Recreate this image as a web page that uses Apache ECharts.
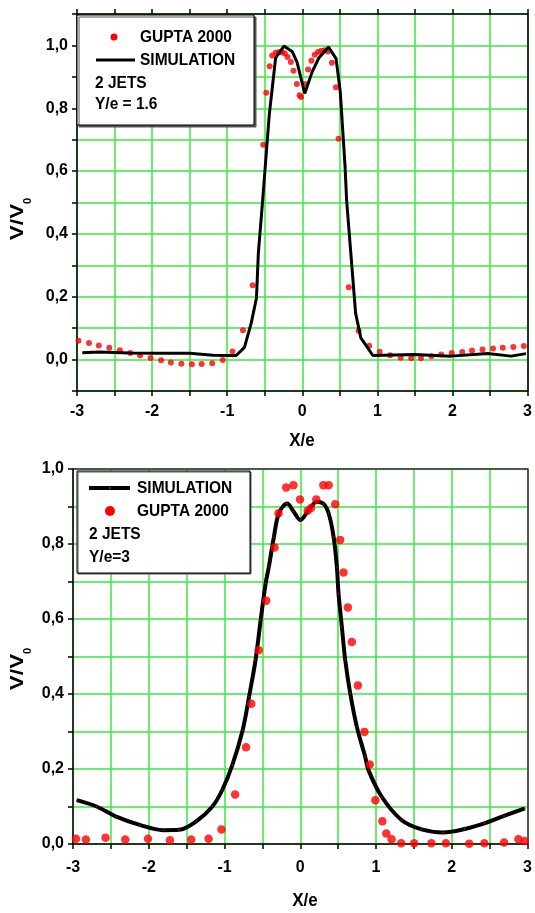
<!DOCTYPE html>
<html><head><meta charset="utf-8">
<script src="https://cdn.jsdelivr.net/npm/echarts@6/dist/echarts.min.js"></script>
<style>html,body{margin:0;padding:0;background:#fff}#c{width:535px;height:913px}</style>
</head><body><div id="c"></div>
<script>
// ---- Top panel (Y/e = 1.6) ----
const topGuptaX = [-2.98,-2.84,-2.71,-2.57,-2.43,-2.29,-2.16,-2.02,-1.88,-1.75,-1.61,-1.47,-1.34,-1.20,-1.06,-0.93,-0.79,-0.66,-0.52,-0.48,-0.435,-0.40,-0.355,-0.31,-0.27,-0.232,-0.196,-0.152,-0.117,-0.073,-0.037,-0.016,0.033,0.077,0.122,0.166,0.21,0.254,0.298,0.342,0.395,0.448,0.483,0.62,0.75,0.89,1.03,1.17,1.31,1.45,1.58,1.72,1.85,1.99,2.13,2.26,2.40,2.54,2.67,2.81,2.95];
const topGuptaY = [0.060,0.053,0.045,0.038,0.030,0.021,0.013,0.005,-0.002,-0.009,-0.013,-0.015,-0.014,-0.012,-0.001,0.026,0.093,0.237,0.684,0.849,0.934,0.968,0.977,0.979,0.978,0.974,0.963,0.947,0.919,0.877,0.841,0.836,0.877,0.923,0.951,0.970,0.979,0.983,0.985,0.981,0.945,0.867,0.703,0.230,0.092,0.044,0.025,0.014,0.006,0.004,0.004,0.011,0.016,0.021,0.024,0.029,0.032,0.035,0.038,0.040,0.043];
const topSimX = [-2.93,-2.71,-2.3,-1.9,-1.5,-1.19,-0.88,-0.77,-0.68,-0.61,-0.585,-0.53,-0.44,-0.355,-0.245,-0.135,-0.07,0.033,0.13,0.22,0.35,0.45,0.506,0.57,0.59,0.71,0.78,0.94,1.50,1.98,2.47,2.78,2.98];
const topSimY = [0.022,0.024,0.021,0.020,0.020,0.014,0.013,0.039,0.116,0.196,0.339,0.500,0.778,0.960,0.998,0.981,0.947,0.847,0.915,0.960,0.995,0.958,0.852,0.614,0.508,0.148,0.069,0.013,0.016,0.011,0.019,0.011,0.019];

// ---- Bottom panel (Y/e = 3) ----
const botGuptaX = [-2.96,-2.83,-2.57,-2.31,-2.01,-1.72,-1.44,-1.21,-1.04,-0.86,-0.716,-0.646,-0.549,-0.449,-0.34,-0.287,-0.186,-0.09,-0.003,0.098,0.142,0.212,0.304,0.374,0.462,0.527,0.571,0.628,0.68,0.76,0.847,0.917,0.991,1.083,1.136,1.205,1.332,1.503,1.73,1.923,2.23,2.43,2.69,2.88,2.96];
const botGuptaY = [0.014,0.012,0.017,0.012,0.014,0.010,0.012,0.014,0.039,0.132,0.258,0.374,0.517,0.649,0.791,0.882,0.951,0.957,0.919,0.889,0.896,0.919,0.957,0.957,0.906,0.811,0.724,0.631,0.539,0.423,0.299,0.212,0.117,0.061,0.028,0.013,0.002,0.002,0.002,0.002,0.001,0.002,0.004,0.013,0.008];
const botSimX = [-2.95,-2.69,-2.43,-2.12,-1.81,-1.6,-1.376,-1.16,-1.03,-0.896,-0.76,-0.676,-0.59,-0.523,-0.457,-0.414,-0.348,-0.282,-0.173,-0.086,0.003,0.111,0.221,0.308,0.374,0.44,0.483,0.505,0.549,0.593,0.659,0.746,0.856,0.90,1.075,1.336,1.60,1.884,2.17,2.43,2.69,2.965];
const botSimY = [0.117,0.100,0.073,0.051,0.037,0.038,0.060,0.100,0.144,0.211,0.304,0.393,0.491,0.597,0.695,0.740,0.819,0.882,0.908,0.886,0.864,0.891,0.913,0.907,0.882,0.819,0.739,0.668,0.579,0.491,0.402,0.313,0.233,0.197,0.126,0.064,0.039,0.031,0.040,0.055,0.075,0.095];

const xTicks = [-3,-2,-1,0,1,2,3];
const yTicks = [0,0.2,0.4,0.6,0.8,1.0];

const zip = (a,b) => a.map((v,i)=>[v,b[i]]);
const FONT = 'Liberation Sans, Arial, sans-serif';
const GREEN = '#3be83b';

function xFmt(v){ const r=Math.round(v*2)/2; return xTicks.indexOf(r)>=0 && Math.abs(r-v)<1e-6 ? String(r) : ''; }
function yFmt(v){ const k=Math.round(v*10); return yTicks.some(t=>Math.round(t*10)===k) ? (k/10).toFixed(1).replace('.',',') : ''; }

const lbl = {fontFamily:FONT,fontWeight:'bold',fontSize:16,color:'#000'};
function bottomX(gi, tickLen, margin){ return {type:'value',gridIndex:gi,position:'bottom',min:-3,max:3,interval:0.5,
  axisLine:{onZero:false,lineStyle:{color:'#000',width:1.5}},
  axisTick:{show:true,inside:false,length:tickLen,lineStyle:{color:'#000',width:1.5}},
  axisLabel:Object.assign({formatter:xFmt,margin:margin,showMinLabel:true,showMaxLabel:true},lbl),
  splitLine:{show:true,lineStyle:{color:GREEN,width:1.5}}}; }
function topX(gi, ticks, col){ return {type:'value',gridIndex:gi,position:'top',min:-3,max:3,interval:0.5,
  axisLine:{onZero:false,lineStyle:{color:col,width:1.5}},
  axisTick:{show:ticks,inside:false,length:5,lineStyle:{color:'#000',width:1.5}},
  axisLabel:{show:false},splitLine:{show:false}}; }
function leftY(gi,min,max){ return {type:'value',gridIndex:gi,position:'left',min:min,max:max,interval:0.1,
  axisLine:{show:true,onZero:false,lineStyle:{color:'#000',width:1.5}},
  axisTick:{show:true,inside:false,length:5,lineStyle:{color:'#000',width:1.5}},
  axisLabel:Object.assign({formatter:yFmt,margin:9,showMinLabel:true,showMaxLabel:true},lbl),
  splitLine:{show:true,lineStyle:{color:GREEN,width:1.5}}}; }
function rightY(gi,min,max,col){ return {type:'value',gridIndex:gi,position:'right',min:min,max:max,interval:0.1,
  axisLine:{show:true,onZero:false,lineStyle:{color:col,width:1.5}},
  axisTick:{show:false},axisLabel:{show:false},splitLine:{show:false}}; }

function txt(x,y,s,size){ return {type:'text',x:x,y:y,scaleY:1.08,style:{text:s,font:'bold '+size+'px '+FONT,fill:'#000',verticalAlign:'middle',align:'left'},z:110}; }
function vtitle(x,y,sx,sy){ return [
  {type:'text',x:x,y:y,rotation:Math.PI/2,scaleX:1.25,style:{text:'V/V',font:'bold 18px '+FONT,fill:'#000',align:'center',verticalAlign:'middle'},z:110},
  {type:'text',x:sx,y:sy,rotation:Math.PI/2,style:{text:'0',font:'bold 11px '+FONT,fill:'#000',align:'center',verticalAlign:'middle'},z:110}]; }

const chart = echarts.init(document.getElementById('c'),null,{renderer:'canvas'});
chart.setOption({
  animation:false,
  backgroundColor:'#fff',
  grid:[{left:77,top:14,width:453,height:377},{left:73,top:469,width:457,height:375}],
  xAxis:[bottomX(0,5,13),topX(0,true,'#000'),bottomX(1,5,16),topX(1,false,'#333')],
  yAxis:[leftY(0,-0.1,1.1),rightY(0,-0.1,1.1,'#000'),leftY(1,0,1),rightY(1,0,1,'#333')],
  series:[
    {name:'GUPTA 2000',type:'scatter',xAxisIndex:0,yAxisIndex:0,data:zip(topGuptaX,topGuptaY),symbol:'circle',symbolSize:6,itemStyle:{color:'#ff0000'},z:3},
    {name:'SIMULATION',type:'line',xAxisIndex:0,yAxisIndex:0,data:zip(topSimX,topSimY),showSymbol:false,lineStyle:{color:'#000',width:3},z:4},
    {name:'SIMULATION',type:'line',xAxisIndex:2,yAxisIndex:2,data:zip(botSimX,botSimY),smooth:0.35,symbol:'circle',symbolSize:1.5,showSymbol:true,itemStyle:{color:'#ff0000',borderWidth:0},lineStyle:{color:'#000',width:4},z:3},
    {name:'GUPTA 2000',type:'scatter',xAxisIndex:2,yAxisIndex:2,data:zip(botGuptaX,botGuptaY),symbol:'circle',symbolSize:8.5,itemStyle:{color:'#ff0000'},z:4}
  ],
  graphic:[
    // top legend box
    {type:'rect',shape:{x:77,y:15,width:177,height:110},style:{fill:'#fff',stroke:'#000',lineWidth:1,shadowColor:'#555',shadowOffsetX:2,shadowOffsetY:2,shadowBlur:0},z:100},
    {type:'circle',shape:{cx:114,cy:37,r:3.5},style:{fill:'#ff0000'},z:110},
    txt(140,37,'GUPTA 2000',15.5),
    {type:'line',shape:{x1:96,y1:60,x2:135,y2:60},style:{stroke:'#000',lineWidth:3},z:110},
    txt(140,60,'SIMULATION',15.5),
    txt(95,83,'2 JETS',15.5),
    txt(95,104,'Y/e = 1.6',15.5),
    // bottom legend box
    {type:'rect',shape:{x:77,y:471,width:173,height:102},style:{fill:'#fff',stroke:'#000',lineWidth:1,shadowColor:'#555',shadowOffsetX:1,shadowOffsetY:1,shadowBlur:0},z:100},
    {type:'line',shape:{x1:89,y1:488,x2:130,y2:488},style:{stroke:'#000',lineWidth:4},z:110},
    {type:'circle',shape:{cx:110,cy:488,r:0.9},style:{fill:'#ff0000'},z:111},
    txt(137,488,'SIMULATION',15.5),
    {type:'circle',shape:{cx:110,cy:511,r:5},style:{fill:'#ff0000'},z:110},
    txt(137,511,'GUPTA 2000',15.5),
    txt(89,534,'2 JETS',15.5),
    txt(89,557,'Y/e=3',15.5),
    // axis titles
    {type:'text',x:302,y:441,scaleY:1.1,style:{text:'X/e',font:'bold 17px '+FONT,fill:'#000',align:'center',verticalAlign:'middle'},z:110},
    {type:'text',x:305,y:901,scaleY:1.1,style:{text:'X/e',font:'bold 17px '+FONT,fill:'#000',align:'center',verticalAlign:'middle'},z:110}
  ].concat(vtitle(18,222,28,201), vtitle(18,672,28,651))
});
</script></body></html>
